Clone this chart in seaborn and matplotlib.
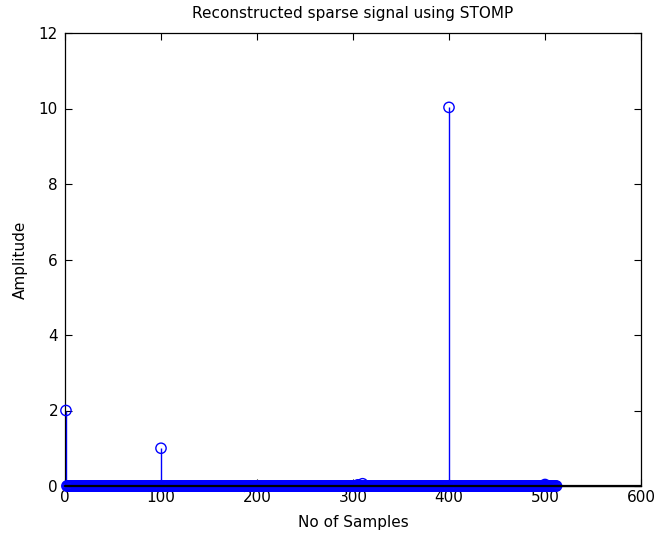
import numpy as np
import pandas as pd
import matplotlib
matplotlib.use("Agg")
import matplotlib.pyplot as plt
import seaborn as sns

# Data
n_samples = 512
nonzero_idx = [1, 100, 305, 310, 400, 500]
nonzero_val = [2.0, 1.0, 0.03, 0.06, 10.03, 0.04]
x_ticks = [0, 100, 200, 300, 400, 500, 600]
y_ticks = [0, 2, 4, 6, 8, 10, 12]

samples = np.arange(1, n_samples + 1)
amplitude = np.zeros(n_samples)
for i, v in zip(nonzero_idx, nonzero_val):
    amplitude[i - 1] = v
df = pd.DataFrame({"sample": samples, "amp": amplitude})

sns.set_theme(style="ticks")
plt.rcParams['font.family'] = ['DejaVu Sans']
plt.rcParams['text.color'] = 'black'
plt.rcParams['axes.labelcolor'] = 'black'

W, H = 656, 540
fig = plt.figure(figsize=(W/100, H/100), dpi=100)
L, R, T, B = 65, 641, 33, 486
ax = fig.add_axes([L/W, (H-B)/H, (R-L)/W, (B-T)/H])

ax.vlines(df["sample"], 0, df["amp"], color="blue", lw=1.0, zorder=2)
sns.scatterplot(data=df, x="sample", y="amp", ax=ax, marker="o", s=55,
                facecolor="none", edgecolor="blue", linewidth=1.0, zorder=3,
                legend=False, clip_on=False)
ax.axhline(0, color="black", lw=1.6, zorder=5, clip_on=False)

ax.set_xlim(0, 600)
ax.set_ylim(0, 12)
ax.set_xticks(x_ticks)
ax.set_yticks(y_ticks)
ax.tick_params(direction="in", top=True, right=True, length=5, width=0.8,
               labelsize=11, colors="black")
ax.tick_params(axis="y", pad=5)
ax.tick_params(axis="x", pad=3)
for s in ax.spines.values():
    s.set_visible(True)
    s.set_color("black")
    s.set_linewidth(0.9)
ax.set_xlabel("No of Samples", fontsize=11, labelpad=7, color="black")
ax.set_ylabel("Amplitude", fontsize=11, labelpad=8, color="black")
ax.set_title("Reconstructed sparse signal using STOMP", fontsize=11, pad=11,
             color="black")
ax.set_facecolor("white")
fig.patch.set_facecolor("white")

fig.savefig("out.png", dpi=100)
